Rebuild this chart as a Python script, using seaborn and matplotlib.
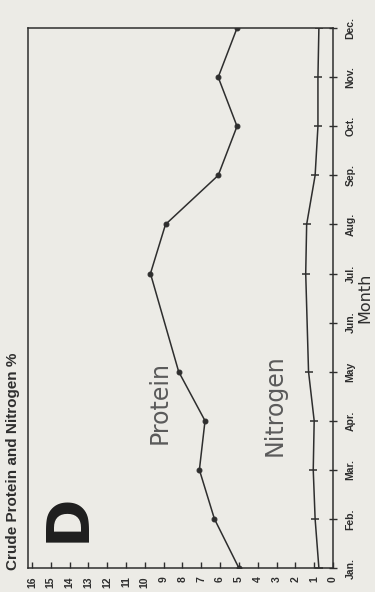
import numpy as np
import pandas as pd
import seaborn as sns
import matplotlib.pyplot as plt

# Data (chart is printed rotated: values run right-to-left, months bottom-to-top)
month_labels = ['Jan.', 'Feb.', 'Mar.', 'Apr.', 'May', 'Jun.',
                'Jul.', 'Aug.', 'Sep.', 'Oct.', 'Nov.', 'Dec.']
sample_months = [1, 2, 3, 4, 5, 7, 8, 9, 10, 11, 12]  # no June sample
protein = [5.0, 6.3, 7.1, 6.8, 8.2, 9.7, 8.9, 6.1, 5.1, 6.1, 5.1]
nitrogen = [0.75, 0.95, 1.05, 1.0, 1.3, 1.45, 1.4, 0.95, 0.8, 0.8, 0.75]
value_ticks = list(range(0, 17))

protein_df = pd.DataFrame({'month': sample_months, 'value': protein})
nitrogen_df = pd.DataFrame({'month': sample_months, 'value': nitrogen})

paper = '#ecebe6'
ink = '#2e2e2e'

sns.set_style('white')
plt.rcParams['font.family'] = ['Liberation Sans', 'DejaVu Sans']

fig = plt.figure(figsize=(3.75, 5.92), dpi=100, facecolor=paper)
ax = fig.add_axes([0.075, 0.0405, 0.813, 0.912], facecolor=paper)

sns.lineplot(data=protein_df, x='value', y='month', orient='y', ax=ax,
             color=ink, linewidth=1.1, marker='o', markersize=3.5,
             markeredgecolor=ink, markerfacecolor=ink)
sns.lineplot(data=nitrogen_df, x='value', y='month', orient='y', ax=ax,
             color=ink, linewidth=1.1, marker='_', markersize=6,
             markeredgecolor=ink, markeredgewidth=1.1)

ax.set_xlim(16.2, 0)
ax.set_ylim(1, 12)

ax.set_xticks(value_ticks)
ax.set_xticklabels([str(v) for v in value_ticks], rotation=90,
                   fontweight='bold', fontsize=7.5)
ax.set_yticks(range(1, 13))
ax.set_yticklabels(month_labels, rotation=90, va='center',
                   fontweight='bold', fontsize=7.5)
ax.yaxis.tick_right()
ax.yaxis.set_label_position('right')

ax.tick_params(axis='x', bottom=True, direction='in', length=4, width=1,
               color=ink, pad=6, labelcolor=ink)
ax.tick_params(axis='y', right=True, left=False, direction='inout',
               length=6, width=1, color=ink, pad=6, labelcolor=ink)

ax.set_xlabel('')
ax.set_ylabel('Month', rotation=90, fontsize=11.5, color=ink,
              family='DejaVu Sans', labelpad=1)

for s in ax.spines.values():
    s.set_visible(True)
    s.set_color(ink)
    s.set_linewidth(1.1)

# Annotations
ax.text(0.43, 0.306, 'Protein', transform=ax.transAxes, rotation=90,
        ha='center', va='center', fontsize=17, color='#5a5a5a',
        family='DejaVu Sans')
ax.text(0.807, 0.302, 'Nitrogen', transform=ax.transAxes, rotation=90,
        ha='center', va='center', fontsize=17, color='#5a5a5a',
        family='DejaVu Sans')
ax.text(0.131, 0.094, 'D', transform=ax.transAxes, rotation=90,
        ha='center', va='center', fontsize=42, color='#1e1e1e',
        family=['Liberation Sans Narrow', 'DejaVu Sans'], fontweight='bold')

fig.text(13 / 375, 1 - 570 / 592, 'Crude Protein and Nitrogen %',
         rotation=90, ha='center', va='bottom', fontsize=11,
         fontweight='bold', color=ink)

fig.savefig('out.png', dpi=100, facecolor=paper)
